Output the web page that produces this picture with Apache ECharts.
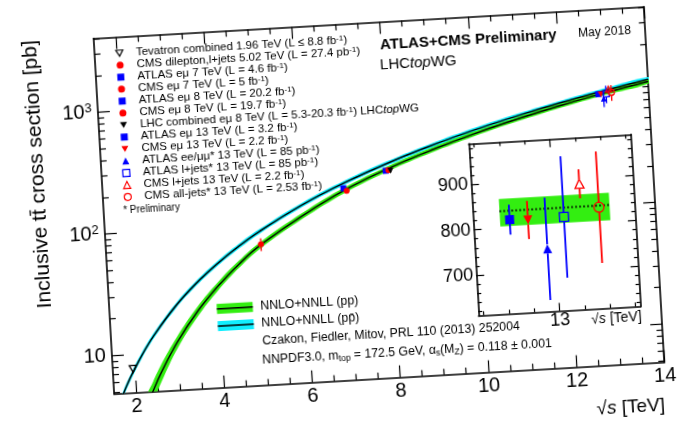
<!DOCTYPE html>
<html>
<head>
<meta charset="utf-8">
<title>Inclusive top-pair cross section vs centre-of-mass energy</title>
<script src="https://cdn.jsdelivr.net/npm/echarts@6.0.0/dist/echarts.min.js"></script>
<style>
  html, body { margin: 0; padding: 0; width: 679px; height: 422px; overflow: hidden; background: #fff; }
  /* The figure is drawn with a slight tilt; the canvas is larger than the page so the tilted frame keeps its corners. */
  #chart { position: absolute; left: -40px; top: -40px; width: 759px; height: 502px;
           transform: rotate(-3.3deg); transform-origin: 50% 50%; }
</style>
</head>
<body>
<div id="chart"></div>
<script>
// ---------------- theory: NNLO+NNLL top-pair cross section [pb] vs sqrt(s) [TeV] ----------------
const ppSqrtS    = [2.2, 2.4, 2.6, 3.0, 3.5, 4.0, 4.5, 5.0, 6.0, 7.0, 8.0, 9.0, 10.0, 11.0, 12.0, 13.0, 14.0];
const ppSigma    = [3.5, 5.0, 6.9, 12.0, 21.0, 33.2, 49.0, 68.2, 114, 177.3, 252.9, 341, 444, 560, 690, 831.8, 984.5];
const ppSigmaHi  = [4.17, 5.85, 7.94, 13.3, 22.9, 35.7, 52.2, 72.3, 120.3, 186.2, 265.0, 356.7, 463.5, 583.5, 718.3, 865.1, 1023.9];
const ppSigmaLo  = [2.84, 4.15, 5.87, 10.7, 19.1, 30.7, 45.8, 64.1, 107.7, 168.4, 240.8, 325.3, 424.5, 536.5, 661.7, 798.5, 945.1];

const ppbarSqrtS   = [1.6, 1.7, 1.8, 1.96, 2.2, 2.5, 3.0, 3.5, 4.0, 4.5, 5.0, 6.0, 7.0, 8.0, 9.0, 10.0, 11.0, 12.0, 13.0, 14.0];
const ppbarSigma   = [3.9, 4.7, 5.6, 7.16, 10.0, 14.3, 23.6, 35.6, 50.3, 68.0, 88.7, 139.6, 203.4, 280.4, 371.3, 476.2, 594.8, 726.9, 871.3, 1028.3];
const ppbarSigmaHi = [4.13, 4.98, 5.92, 7.55, 10.53, 15.02, 24.73, 37.24, 52.56, 70.99, 92.51, 145.5, 211.7, 291.6, 386.2, 495.2, 618.6, 756.0, 906.2, 1069.4];
const ppbarSigmaLo = [3.67, 4.42, 5.28, 6.77, 9.47, 13.59, 22.47, 33.96, 48.04, 65.01, 84.89, 133.7, 195.1, 269.2, 356.4, 457.2, 571.0, 697.8, 836.4, 987.2];

// ---------------- measurements ----------------
const measNames = [
  'Tevatron combined 1.96 TeV (L \u2264 8.8 fb^-1)',
  'CMS dilepton,l+jets 5.02 TeV (L = 27.4 pb^-1)',
  'ATLAS e\u03bc 7 TeV (L = 4.6 fb^-1)',
  'CMS e\u03bc 7 TeV (L = 5 fb^-1)',
  'ATLAS e\u03bc 8 TeV (L = 20.2 fb^-1)',
  'CMS e\u03bc 8 TeV (L = 19.7 fb^-1)',
  'LHC combined e\u03bc 8 TeV (L = 5.3-20.3 fb^-1) LHCtopWG',
  'ATLAS e\u03bc 13 TeV (L = 3.2 fb^-1)',
  'CMS e\u03bc 13 TeV (L = 2.2 fb^-1)',
  'ATLAS ee/\u03bc\u03bc* 13 TeV (L = 85 pb^-1)',
  'ATLAS l+jets* 13 TeV (L = 85 pb^-1)',
  'CMS l+jets 13 TeV (L = 2.2 fb^-1)',
  'CMS all-jets* 13 TeV (L = 2.53 fb^-1)'
];
// plotted sqrt(s) in the main panel (13 TeV points spread slightly apart)
const measSqrtS = [1.96, 5.02, 6.96, 7.03, 7.94, 8.0, 8.05, 12.85, 12.91, 12.97, 13.03, 13.09, 13.15];
const measSigma = [7.60, 69.5, 182.9, 173.6, 242.9, 244.9, 241.5, 818, 815, 749, 817, 888, 834];
const measErr   = [0.41, 8.4, 7.1, 6.4, 8.8, 9.3, 8.5, 33, 42, 113, 134, 32, 123];

// 13 TeV zoom: which measurements, and their spread positions
const insetMeas  = [7, 8, 9, 10, 11, 12];
const insetSqrtS = [12.912, 12.948, 12.983, 13.019, 13.053, 13.089];
const insetBandSqrtS = [12.893, 13.110];
const insetTheory = 838;
const insetTheoryHi = 865;
const insetTheoryLo = 804;

// ---------------- tick values ----------------
const xMajorTicks = [2, 4, 6, 8, 10, 12, 14];
const xMinorTicks = [2.5, 3, 3.5, 4.5, 5, 5.5, 6.5, 7, 7.5, 8.5, 9, 9.5, 10.5, 11, 11.5, 12.5, 13, 13.5];
const yMajorTicks = [10, 100, 1000];
const yMinorTicks = [5, 6, 7, 8, 9, 20, 30, 40, 50, 60, 70, 80, 90, 200, 300, 400, 500, 600, 700, 800, 900, 2000, 3000, 4000];
const insetXMajor = [13];
const insetXMinor = [12.85, 12.9, 12.95, 13.05, 13.1, 13.15];
const insetYMajor = [700, 800, 900];
const insetYMinor = [620, 640, 660, 680, 720, 740, 760, 780, 820, 840, 860, 880, 920, 940, 960, 980];

// ---------------- styles ----------------
const FONT = '"Liberation Sans", Arial, Helvetica, sans-serif';
const M = 40;                 // canvas margin around the visible page
const GREEN = '#33ee11';
const CYAN = '#11eeff';
const RED = '#ff0000';
const BLUE = '#0000ff';
const DOWN = 'path://M0,0L10,0L5,8.66Z';

const markerStyle = [
  {symbol: 'triangle', rotate: 180, color: '#000', open: true,  icon: DOWN},
  {symbol: 'circle',   rotate: 0,   color: RED,    open: false, icon: 'circle'},
  {symbol: 'rect',     rotate: 0,   color: BLUE,   open: false, icon: 'rect'},
  {symbol: 'circle',   rotate: 0,   color: RED,    open: false, icon: 'circle'},
  {symbol: 'rect',     rotate: 0,   color: BLUE,   open: false, icon: 'rect'},
  {symbol: 'circle',   rotate: 0,   color: RED,    open: false, icon: 'circle'},
  {symbol: 'triangle', rotate: 180, color: '#000', open: false, icon: DOWN},
  {symbol: 'rect',     rotate: 0,   color: BLUE,   open: false, icon: 'rect'},
  {symbol: 'triangle', rotate: 180, color: RED,    open: false, icon: DOWN},
  {symbol: 'triangle', rotate: 0,   color: BLUE,   open: false, icon: 'triangle'},
  {symbol: 'rect',     rotate: 0,   color: BLUE,   open: true,  icon: 'rect'},
  {symbol: 'triangle', rotate: 0,   color: RED,    open: true,  icon: 'triangle'},
  {symbol: 'circle',   rotate: 0,   color: RED,    open: true,  icon: 'circle'}
];
const CLEAR = 'rgba(255,255,255,0)';

// ---------------- axes: every frame side gets a major and a minor tick axis ----------------
const xAxes = [];
const yAxes = [];
function frameSide(list, gridIndex, common, position, major, minor, majLen, minLen, label) {
  list.push(Object.assign({}, common, {
    gridIndex: gridIndex, position: position,
    axisLine: {show: true, onZero: false, lineStyle: {color: '#000', width: 1.6}},
    axisTick: {show: true, inside: true, length: majLen, customValues: major, lineStyle: {color: '#000', width: 1.2}},
    axisLabel: label || {show: false},
    splitLine: {show: false}, axisPointer: {show: false}
  }));
  list.push(Object.assign({}, common, {
    gridIndex: gridIndex, position: position,
    axisLine: {show: false, onZero: false},
    axisTick: {show: true, inside: true, length: minLen, customValues: minor, lineStyle: {color: '#000', width: 1.2}},
    axisLabel: {show: false},
    splitLine: {show: false}, axisPointer: {show: false}
  }));
}

const mainX = {type: 'value', min: 1.5, max: 14};
const mainY = {type: 'log', logBase: 10, min: 4.85, max: 4060};
const insetX = {type: 'value', min: 12.84, max: 13.16};
const insetY = {type: 'value', min: 611, max: 990};

// main panel: x axes 0-3, y axes 0-3
frameSide(xAxes, 0, mainX, 'bottom', xMajorTicks, xMinorTicks, 12, 6, {
  show: true, customValues: xMajorTicks, margin: 4, color: '#000', fontFamily: FONT, fontSize: 20
});
frameSide(xAxes, 0, mainX, 'top', xMajorTicks, xMinorTicks, 12, 6);
frameSide(yAxes, 0, mainY, 'left', yMajorTicks, yMinorTicks, 12, 6, {
  show: true, customValues: yMajorTicks, margin: 6, color: '#000', fontFamily: FONT, fontSize: 20,
  formatter: function (v) {
    const e = Math.round(Math.log10(v));
    return e === 1 ? '{m|10}' : '{m|10}{e|' + e + '}';
  },
  rich: {
    m: {fontSize: 20, fontFamily: FONT, color: '#000', lineHeight: 22},
    e: {fontSize: 13, fontFamily: FONT, color: '#000', lineHeight: 22, verticalAlign: 'top'}
  }
});
frameSide(yAxes, 0, mainY, 'right', yMajorTicks, yMinorTicks, 12, 6);

// 13 TeV zoom: x axes 4-7, y axes 4-7
frameSide(xAxes, 1, insetX, 'bottom', insetXMajor, insetXMinor, 8, 4, {
  show: true, customValues: insetXMajor, margin: 1, color: '#000', fontFamily: FONT, fontSize: 18
});
frameSide(xAxes, 1, insetX, 'top', insetXMajor, insetXMinor, 8, 4);
frameSide(yAxes, 1, insetY, 'left', insetYMajor, insetYMinor, 8, 4, {
  show: true, customValues: insetYMajor, margin: 3, color: '#000', fontFamily: FONT, fontSize: 18
});
frameSide(yAxes, 1, insetY, 'right', insetYMajor, insetYMinor, 8, 4);

// ---------------- series builders ----------------
function bandSeries(xs, hi, lo, fill, z) {
  return {
    type: 'custom', xAxisIndex: 0, yAxisIndex: 0, clip: true, silent: true, z: z,
    data: [[xs[xs.length - 1], hi[hi.length - 1]]],
    renderItem: function (params, api) {
      const pts = [];
      for (let i = 0; i < xs.length; i++) pts.push(api.coord([xs[i], hi[i]]));
      for (let i = xs.length - 1; i >= 0; i--) pts.push(api.coord([xs[i], lo[i]]));
      return {type: 'polygon', shape: {points: pts, smooth: 0.4}, style: {fill: fill}};
    }
  };
}
function curveSeries(xs, ys, z) {
  return {
    type: 'line', xAxisIndex: 0, yAxisIndex: 0, silent: true, z: z,
    data: xs.map(function (x, i) { return [x, ys[i]]; }),
    smooth: 0.4, symbol: 'none',
    lineStyle: {color: '#000', width: 1.5}
  };
}
function markerSeries(i, xi, yi, x, size) {
  const s = markerStyle[i];
  return {
    type: 'scatter', name: measNames[i], xAxisIndex: xi, yAxisIndex: yi, silent: true, z: 10,
    data: [[x, measSigma[i]]],
    symbol: s.symbol, symbolRotate: s.rotate, symbolSize: size,
    itemStyle: {color: s.open ? CLEAR : s.color, borderColor: s.color, borderWidth: s.open ? 1.3 : 0, opacity: 1}
  };
}
function errorSeries(i, xi, yi, x, gap, width) {
  const color = markerStyle[i].color;
  return {
    type: 'custom', xAxisIndex: xi, yAxisIndex: yi, silent: true, z: 9,
    data: [[x, measSigma[i], measErr[i]]],
    renderItem: function (params, api) {
      const px = api.value(0), py = api.value(1), e = api.value(2);
      const c = api.coord([px, py]);
      const top = api.coord([px, py + e]);
      const bot = api.coord([px, py - e]);
      const children = [];
      if (c[1] - gap > top[1]) {
        children.push({type: 'line', shape: {x1: c[0], y1: top[1], x2: c[0], y2: c[1] - gap},
                       style: {stroke: color, lineWidth: width}});
      }
      if (c[1] + gap < bot[1]) {
        children.push({type: 'line', shape: {x1: c[0], y1: c[1] + gap, x2: c[0], y2: bot[1]},
                       style: {stroke: color, lineWidth: width}});
      }
      return {type: 'group', children: children};
    }
  };
}

const series = [];
series.push(bandSeries(ppbarSqrtS, ppbarSigmaHi, ppbarSigmaLo, CYAN, 2));
series.push(bandSeries(ppSqrtS, ppSigmaHi, ppSigmaLo, GREEN, 2));
series.push(curveSeries(ppbarSqrtS, ppbarSigma, 4));
series.push(curveSeries(ppSqrtS, ppSigma, 4));
for (let i = 0; i < measNames.length; i++) {
  series.push(errorSeries(i, 0, 0, measSqrtS[i], 3, 1.3));
  series.push(markerSeries(i, 0, 0, measSqrtS[i], i === 0 ? 7 : 6));
}
// 13 TeV zoom: theory band, central value, measurements
series.push({
  type: 'custom', xAxisIndex: 4, yAxisIndex: 4, silent: true, z: 2,
  data: [[insetBandSqrtS[0], insetTheory]],
  renderItem: function (params, api) {
    const a = api.coord([insetBandSqrtS[0], insetTheoryHi]);
    const b = api.coord([insetBandSqrtS[1], insetTheoryLo]);
    return {type: 'rect', shape: {x: a[0], y: a[1], width: b[0] - a[0], height: b[1] - a[1]}, style: {fill: GREEN}};
  }
});
series.push({
  type: 'line', xAxisIndex: 4, yAxisIndex: 4, silent: true, z: 4, symbol: 'none',
  data: [[insetBandSqrtS[0], insetTheory], [insetBandSqrtS[1], insetTheory]],
  lineStyle: {color: '#000', width: 2, type: [1.5, 2.5]}
});
insetMeas.forEach(function (m, k) {
  series.push(errorSeries(m, 4, 4, insetSqrtS[k], 4.5, 1.8));
  series.push(markerSeries(m, 4, 4, insetSqrtS[k], m === 12 ? 10 : 9));
});

// ---------------- text ----------------
const legendRich = {
  sup: {fontSize: 8, fontFamily: FONT, color: '#000', lineHeight: 12, verticalAlign: 'top'},
  wg:  {fontSize: 11.5, fontFamily: FONT, color: '#000', lineHeight: 12},
  wgi: {fontSize: 11.5, fontFamily: FONT, color: '#000', lineHeight: 12, fontStyle: 'italic'}
};
const subRich = {
  sub: {fontSize: 8.5, fontFamily: FONT, color: '#000', lineHeight: 14, verticalAlign: 'bottom'},
  n:   {fontSize: 12.3, fontFamily: FONT, color: '#000', lineHeight: 14}
};

function txt(x, y, text, extra, rotation) {
  return {type: 'text', x: x, y: y, rotation: rotation || 0, silent: true, z: 20,
          style: Object.assign({text: text, fill: '#000', fontFamily: FONT, fontSize: 12.3,
                                align: 'left', verticalAlign: 'middle'}, extra || {})};
}

const option = {
  animation: false,
  backgroundColor: '#fff',
  grid: [
    {left: M + 103.9, top: M + 24.5, width: 551.3, height: 356.1, outerBoundsMode: 'none', containLabel: false},
    {left: M + 472.3, top: M + 151.4, width: 162.5, height: 172, outerBoundsMode: 'none', containLabel: false,
     show: true, backgroundColor: '#fff', borderWidth: 0}
  ],
  xAxis: xAxes,
  yAxis: yAxes,
  legend: {
    data: measNames.map(function (n, i) {
      const s = markerStyle[i];
      return {name: n, icon: s.icon,
              itemStyle: {color: s.open ? CLEAR : s.color, borderColor: s.color, borderWidth: s.open ? 1.2 : 0}};
    }),
    orient: 'vertical', left: M + 124.8, top: M + 34.8, padding: 0, itemGap: 0,
    itemWidth: 7, itemHeight: 7, selectedMode: false,
    textStyle: {fontFamily: FONT, fontSize: 11.5, color: '#000', lineHeight: 12, padding: [0, 0, 0, 8], rich: legendRich},
    formatter: function (name) {
      return name.replace(/\^-1/g, '{sup|-1}').replace('LHCtopWG', '{wg|LHC}{wgi|top}{wg|WG}');
    }
  },
  graphic: [
    // axis titles
    txt(M + 40.5, M + 157, 'Inclusive tt\u0304 cross section [pb]',
        {fontSize: 21, align: 'center', verticalAlign: 'middle'}, Math.PI / 2),
    txt(M + 653.3, M + 423.4, '{r|\u221a}{i|s}{r| [TeV]}', {
      align: 'right',
      rich: {r: {fontSize: 19, fontFamily: FONT, color: '#000'},
             i: {fontSize: 19, fontFamily: FONT, color: '#000', fontStyle: 'italic'}}
    }),
    txt(M + 635.1, M + 333.9, '{r|\u221a}{i|s}{r| [TeV]}', {
      align: 'right',
      rich: {r: {fontSize: 14, fontFamily: FONT, color: '#000'},
             i: {fontSize: 14, fontFamily: FONT, color: '#000', fontStyle: 'italic'}}
    }),
    // headline
    txt(M + 389.5, M + 47.6, 'ATLAS+CMS Preliminary', {fontSize: 15, fontWeight: 'bold'}),
    txt(M + 388.3, M + 67.6, '{a|LHC}{b|top}{a|WG}', {
      rich: {a: {fontSize: 15, fontFamily: FONT, color: '#000'},
             b: {fontSize: 15, fontFamily: FONT, color: '#000', fontStyle: 'italic'}}
    }),
    txt(M + 588.1, M + 47.3, 'May 2018', {fontSize: 12}),
    txt(M + 123.7, M + 198.3, '* Preliminary', {fontSize: 10}),
    // theory legend
    {type: 'rect', silent: true, z: 20, shape: {x: M + 211.4, y: M + 296.8, width: 36, height: 10}, style: {fill: GREEN}},
    {type: 'line', silent: true, z: 21, shape: {x1: M + 211.4, y1: M + 301.8, x2: M + 247.4, y2: M + 301.8}, style: {stroke: '#000', lineWidth: 1.5}},
    {type: 'rect', silent: true, z: 20, shape: {x: M + 211.4, y: M + 314.1, width: 36, height: 10}, style: {fill: CYAN}},
    {type: 'line', silent: true, z: 21, shape: {x1: M + 211.4, y1: M + 319.1, x2: M + 247.4, y2: M + 319.1}, style: {stroke: '#000', lineWidth: 1.5}},
    txt(M + 255, M + 301.8, 'NNLO+NNLL (pp)'),
    txt(M + 255, M + 319.1, 'NNLO+NNLL (pp\u0304)'),
    txt(M + 254.9, M + 337.0, 'Czakon, Fiedler, Mitov, PRL 110 (2013) 252004'),
    txt(M + 253.8, M + 356.0,
        '{n|NNPDF3.0, m}{sub|top}{n| = 172.5 GeV, \u03b1}{sub|s}{n|(M}{sub|Z}{n|) = 0.118 \u00b1 0.001}',
        {rich: subRich})
  ],
  series: series
};

const chart = echarts.init(document.getElementById('chart'), null, {renderer: 'canvas'});
chart.setOption(option);
</script>
</body>
</html>
